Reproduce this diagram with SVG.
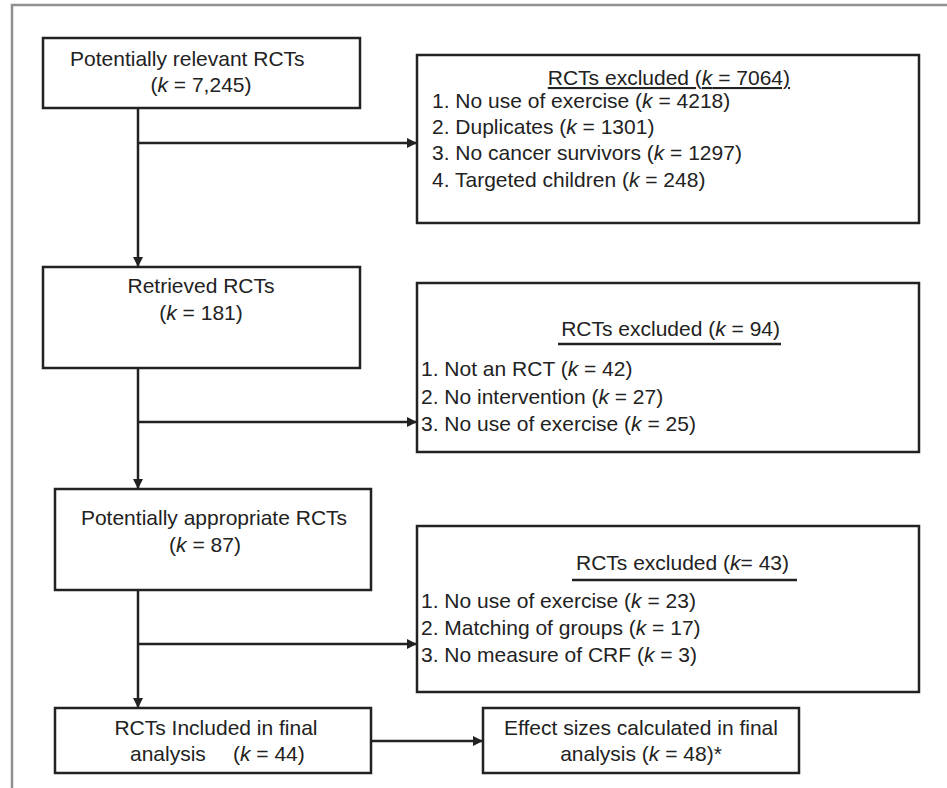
<svg xmlns="http://www.w3.org/2000/svg" width="947" height="788" viewBox="0 0 947 788">
<style>
.frame{fill:none;stroke:#909090;stroke-width:2.5}
.box{fill:#fff;stroke:#222;stroke-width:2.5}
.ln{fill:none;stroke:#222;stroke-width:2.5}
.ul{fill:none;stroke:#222;stroke-width:2.5}
text{font-family:"Liberation Sans",Arial,sans-serif;font-size:21px;fill:#222}
.c{text-anchor:middle}
.r{text-anchor:end}
.i{font-style:italic}
</style>
<defs>
<marker id="ah" viewBox="0 0 10 10" refX="10" refY="5" markerWidth="4" markerHeight="4" markerUnits="strokeWidth" orient="auto">
<path d="M0,0 L10,5 L0,10 z" fill="#222"/>
</marker>
</defs>
<rect width="947" height="788" fill="#fff"/>
<path class="frame" d="M12,788 V5 H947"/>
<g id="connectors">
<path class="ln" d="M138,108 V267" marker-end="url(#ah)"/>
<path class="ln" d="M138,143 H417" marker-end="url(#ah)"/>
<path class="ln" d="M138,368 V489" marker-end="url(#ah)"/>
<path class="ln" d="M138,422 H417" marker-end="url(#ah)"/>
<path class="ln" d="M138,590 V708" marker-end="url(#ah)"/>
<path class="ln" d="M138,644 H417" marker-end="url(#ah)"/>
<path class="ln" d="M371,741 H483" marker-end="url(#ah)"/>
</g>
<g id="n1">
<rect class="box" x="43" y="38" width="317" height="70"/>
<text x="70" y="66">Potentially relevant RCTs</text>
<text x="201" y="92" class="c">(<tspan class="i">k</tspan> = 7,245)</text>
</g>
<g id="n2">
<rect class="box" x="417" y="55" width="502" height="168"/>
<text x="790" y="85" class="r" text-decoration="underline">RCTs excluded (<tspan class="i">k</tspan> = 7064)</text>
<text x="432" y="108">1. No use of exercise (<tspan class="i">k</tspan> = 4218)</text>
<text x="432" y="134">2. Duplicates (<tspan class="i">k</tspan> = 1301)</text>
<text x="432" y="160">3. No cancer survivors (<tspan class="i">k</tspan> = 1297)</text>
<text x="432" y="187">4. Targeted children (<tspan class="i">k</tspan> = 248)</text>
</g>
<g id="n3">
<rect class="box" x="43" y="267" width="317" height="101"/>
<text x="201" y="293" class="c">Retrieved RCTs</text>
<text x="201" y="320" class="c">(<tspan class="i">k</tspan> = 181)</text>
</g>
<g id="n4">
<rect class="box" x="417" y="283" width="502" height="169"/>
<text x="780" y="336" class="r">RCTs excluded (<tspan class="i">k</tspan> = 94)</text>
<path class="ul" d="M558,344 H781"/>
<text x="421" y="376">1. Not an RCT (<tspan class="i">k</tspan> = 42)</text>
<text x="421" y="404">2. No intervention (<tspan class="i">k</tspan> = 27)</text>
<text x="421" y="431">3. No use of exercise (<tspan class="i">k</tspan> = 25)</text>
</g>
<g id="n5">
<rect class="box" x="55" y="489" width="316" height="101"/>
<text x="214" y="525" class="c">Potentially appropriate RCTs</text>
<text x="205" y="552" class="c">(<tspan class="i">k</tspan> = 87)</text>
</g>
<g id="n6">
<rect class="box" x="417" y="526" width="502" height="166"/>
<text x="789" y="570" class="r">RCTs excluded (<tspan class="i">k</tspan>= 43)</text>
<path class="ul" d="M572,580 H797"/>
<text x="421" y="608">1. No use of exercise (<tspan class="i">k</tspan> = 23)</text>
<text x="421" y="635">2. Matching of groups (<tspan class="i">k</tspan> = 17)</text>
<text x="421" y="662">3. No measure of CRF (<tspan class="i">k</tspan> = 3)</text>
</g>
<g id="n7">
<rect class="box" x="55" y="708" width="316" height="65"/>
<text x="216" y="735" class="c">RCTs Included in final</text>
<text x="130" y="761">analysis</text>
<text x="233" y="761">(<tspan class="i">k</tspan> = 44)</text>
</g>
<g id="n8">
<rect class="box" x="483" y="708" width="316" height="65"/>
<text x="641" y="735" class="c">Effect sizes calculated in final</text>
<text x="641" y="761" class="c">analysis (<tspan class="i">k</tspan> = 48)*</text>
</g>
</svg>
